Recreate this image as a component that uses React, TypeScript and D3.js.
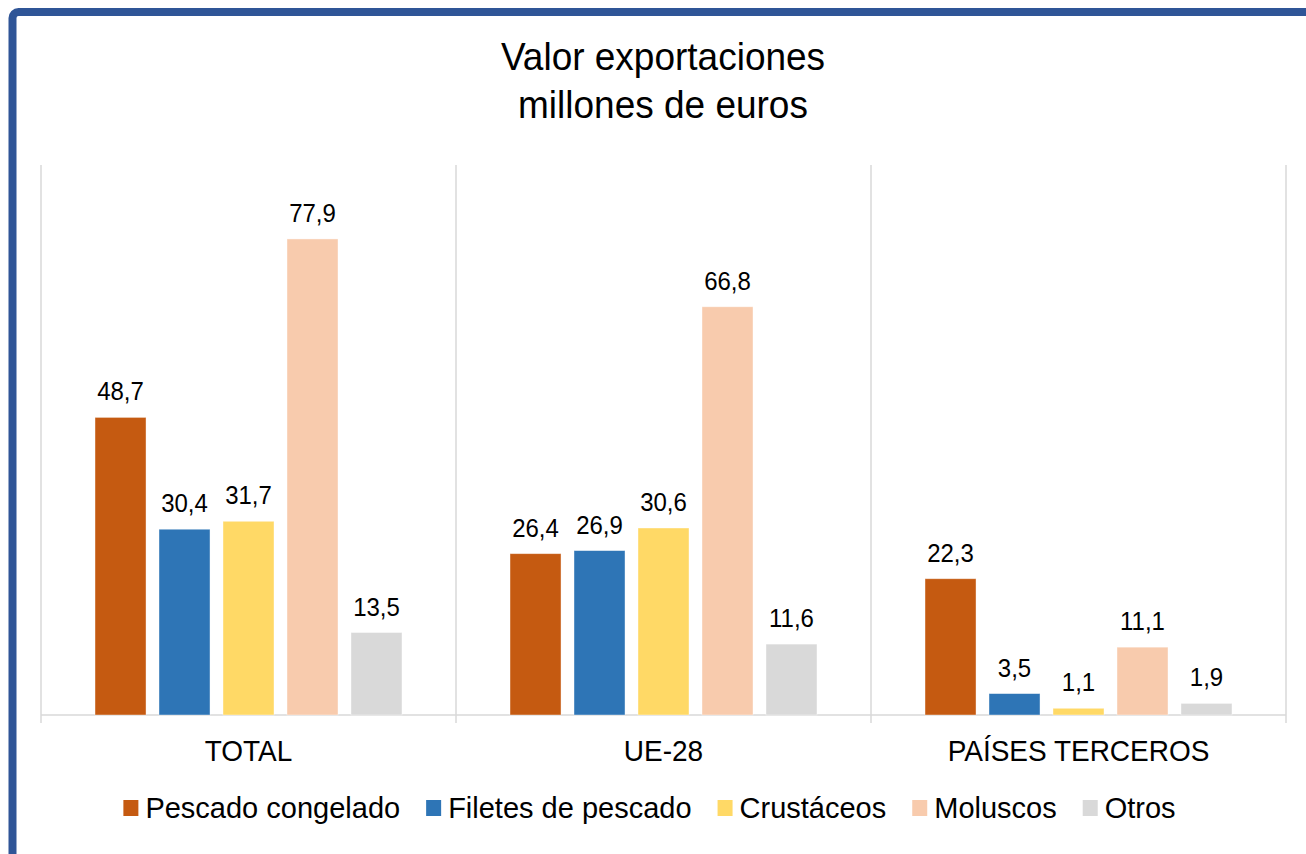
import React from "react";
import * as d3 from "d3";

const categories = ["TOTAL", "UE-28", "PAÍSES TERCEROS"];
const seriesNames = ["Pescado congelado", "Filetes de pescado", "Crustáceos", "Moluscos", "Otros"];
const seriesColors = ["#C55A11", "#2E75B6", "#FFD966", "#F8CBAD", "#D9D9D9"];
const pescadoCongelado = [48.7, 26.4, 22.3];
const filetesPescado = [30.4, 26.9, 3.5];
const crustaceos = [31.7, 30.6, 1.1];
const moluscos = [77.9, 66.8, 11.1];
const otros = [13.5, 11.6, 1.9];
const seriesValues = [pescadoCongelado, filetesPescado, crustaceos, moluscos, otros];
const titleLines = ["Valor exportaciones", "millones de euros"];

const W = 1306;
const H = 854;
const FONT = "'Liberation Sans', Arial, sans-serif";

function measure(text: string, size: number): number {
  const c = document.createElement("canvas").getContext("2d");
  if (!c) return text.length * size * 0.5;
  c.font = `${size}px ${FONT}`;
  return c.measureText(text).width;
}

function T({ x, y, size, anchor = "middle", vs = 1.1, children }: any) {
  return (
    <text
      transform={`translate(${x},${y}) scale(1,${vs})`}
      fontSize={size}
      fontFamily={FONT}
      textAnchor={anchor}
      fill="#000"
    >
      {children}
    </text>
  );
}

export default function App() {
  const plotLeft = 41;
  const plotRight = 1286;
  const plotTop = 165;
  const baseY = 715;

  const x0 = d3.scaleBand<string>().domain(categories).range([plotLeft, plotRight]).padding(0);
  const x1 = d3
    .scaleBand<string>()
    .domain(seriesNames)
    .range([0, x0.bandwidth()])
    .paddingInner(0.203)
    .paddingOuter(0.844);
  const y = d3.scaleLinear().domain([0, 90]).range([baseY, plotTop]);

  const fmt = (v: number) => v.toFixed(1).replace(".", ",");

  const separators = [...categories.map((c) => x0(c) as number), plotRight];

  // legend layout
  const legendSize = 29;
  const markerW = 15;
  const textOffset = 22;
  const itemGap = 26;
  const widths = seriesNames.map((s) => measure(s, legendSize));
  const total =
    widths.reduce((a, w) => a + textOffset + w, 0) + itemGap * (seriesNames.length - 1);
  let lx = 649.5 - total / 2;
  const legendItems = seriesNames.map((s, i) => {
    const item = { name: s, color: seriesColors[i], x: lx };
    lx += textOffset + widths[i] + itemGap;
    return item;
  });

  return (
    <svg
      width={W}
      height={H}
      style={{ position: "absolute", left: 0, top: 0, background: "#fff" }}
    >
      <rect x={0} y={0} width={W} height={H} fill="#fff" />
      {/* frame */}
      <rect x={12.5} y={12} width={W + 40} height={H + 40} rx={6} fill="none" stroke="#2F5597" strokeWidth={8} />

      {/* title */}
      {titleLines.map((t, i) => (
        <T key={t} x={663} y={70 + i * 48} size={37} vs={1.03}>
          {t}
        </T>
      ))}

      {/* separators */}
      {separators.map((sx, i) => (
        <line key={i} x1={sx} x2={sx} y1={plotTop} y2={723} stroke="#D9D9D9" strokeWidth={1.5} />
      ))}
      <line x1={plotLeft} x2={plotRight} y1={baseY} y2={baseY} stroke="#D9D9D9" strokeWidth={1.5} />

      {/* bars */}
      {categories.map((c, ci) => (
        <g key={c} transform={`translate(${x0(c)},0)`}>
          {seriesNames.map((s, si) => {
            const v = seriesValues[si][ci];
            const bx = x1(s) as number;
            const bw = x1.bandwidth();
            return (
              <g key={s}>
                <rect
                  x={bx}
                  y={y(v)}
                  width={bw}
                  height={baseY - y(v)}
                  fill={seriesColors[si]}
                  stroke="#fff"
                  strokeOpacity={0.5}
                  strokeWidth={0.8}
                />
                <T x={bx + bw / 2} y={y(v) - 17} size={24} vs={1.08}>
                  {fmt(v)}
                </T>
              </g>
            );
          })}
        </g>
      ))}

      {/* category labels */}
      {categories.map((c) => (
        <T key={c} x={(x0(c) as number) + x0.bandwidth() / 2} y={761} size={28} vs={1.05}>
          {c}
        </T>
      ))}

      {/* legend */}
      {legendItems.map((it) => (
        <g key={it.name}>
          <rect x={it.x} y={800} width={markerW} height={16} fill={it.color} />
          <T x={it.x + textOffset} y={818} size={legendSize} anchor="start" vs={1}>
            {it.name}
          </T>
        </g>
      ))}
    </svg>
  );
}
